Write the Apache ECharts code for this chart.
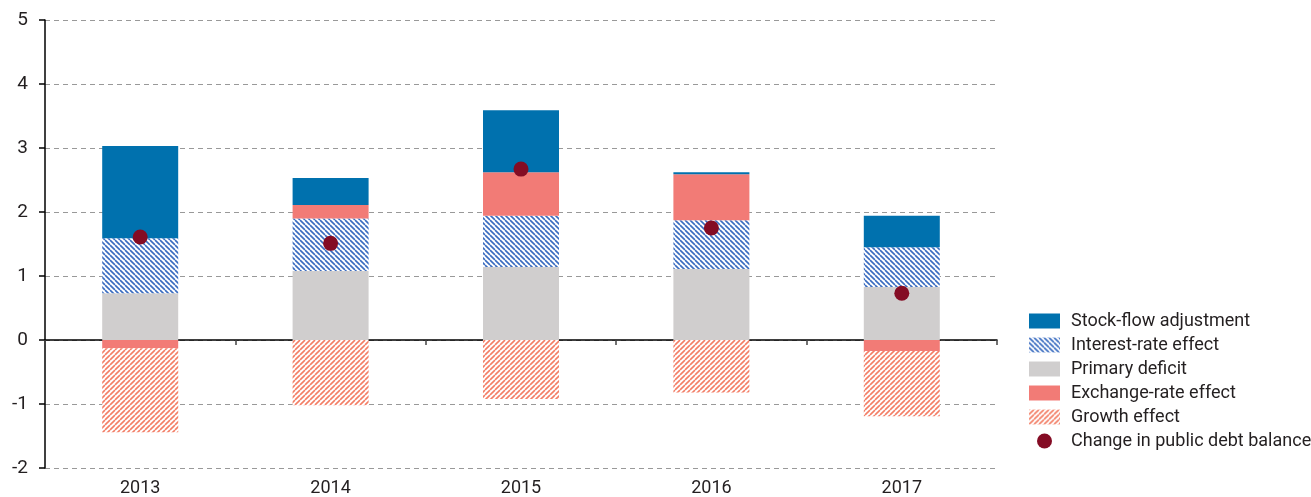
<!DOCTYPE html>
<html><head><meta charset="utf-8">
<script src="https://cdn.jsdelivr.net/npm/echarts@6/dist/echarts.min.js"></script>
<style>html,body{margin:0;padding:0;background:#fff}#c{width:1311px;height:497px}</style>
</head><body><div id="c"></div>
<script>
const years = ['2013','2014','2015','2016','2017'];
const primaryDeficit = [0.73, 1.08, 1.14, 1.11, 0.83];
const interestRate   = [0.86, 0.82, 0.80, 0.76, 0.62];
const exchangeRate   = [-0.13, 0.21, 0.68, 0.72, -0.17];
const stockFlow      = [1.44, 0.42, 0.97, 0.03, 0.49];
const growthEffect   = [-1.31, -1.02, -0.92, -0.82, -1.02];
const debtChange     = [1.61, 1.51, 2.67, 1.75, 0.73];
const yTicks = [-2, -1, 0, 1, 2, 3, 4, 5];

const FONT = "Roboto, 'Liberation Sans', sans-serif";
const TXT = '#231f20';

function hatch(color, dir) {
  const s = 5;
  const c = document.createElement('canvas');
  c.width = s; c.height = s;
  const g = c.getContext('2d');
  g.fillStyle = '#fff'; g.fillRect(0, 0, s, s);
  g.strokeStyle = color; g.lineWidth = 1.6;
  g.beginPath();
  for (const k of [-s, 0, s]) {
    if (dir === 'back') { g.moveTo(k, 0); g.lineTo(k + s, s); }
    else { g.moveTo(k, s); g.lineTo(k + s, 0); }
  }
  g.stroke();
  return { image: c, repeat: 'repeat' };
}
const interestPattern = hatch('#3a6cc0', 'back');
const growthPattern = hatch('#f37e66', 'fwd');

const chart = echarts.init(document.getElementById('c'));
chart.setOption({
  animation: false,
  backgroundColor: '#fff',
  grid: { left: 45, right: 314, top: 20, bottom: 29 },
  legend: {
    orient: 'vertical', left: 1029, top: 312, padding: 0,
    itemWidth: 31, itemHeight: 15, itemGap: 6,
    textStyle: { fontFamily: FONT, fontSize: 18, color: TXT, padding: [0, 0, 0, 6] },
    data: [
      { name: 'Stock-flow adjustment', icon: 'rect' },
      { name: 'Interest-rate effect', icon: 'rect' },
      { name: 'Primary deficit', icon: 'rect' },
      { name: 'Exchange-rate effect', icon: 'rect' },
      { name: 'Growth effect', icon: 'rect' },
      { name: 'Change in public debt balance', icon: 'circle' }
    ]
  },
  xAxis: [
    {
      type: 'category', data: years,
      axisLine: { onZero: true, lineStyle: { color: '#000', width: 1.5 } },
      axisTick: { show: true, length: 5, lineStyle: { color: '#444', width: 1.5 } },
      axisLabel: { show: false },
      splitLine: { show: false }
    },
    {
      type: 'category', data: years, position: 'bottom',
      axisLine: { show: false, onZero: false },
      axisTick: { show: false },
      axisLabel: { fontFamily: FONT, fontSize: 18, color: TXT, margin: 11 },
      splitLine: { show: false }
    }
  ],
  yAxis: {
    type: 'value', min: yTicks[0], max: yTicks[yTicks.length - 1], interval: 1,
    axisLine: { show: true, onZero: false, lineStyle: { color: '#000', width: 1.5 } },
    axisTick: { show: true, length: 6, lineStyle: { color: '#000', width: 1.5 } },
    axisLabel: { fontFamily: FONT, fontSize: 19, color: TXT, margin: 17 },
    splitLine: { show: true, lineStyle: { color: '#999', type: [5, 4], width: 1 } }
  },
  series: [
    { name: 'Primary deficit', type: 'bar', stack: 'a', barWidth: 76, data: primaryDeficit, itemStyle: { color: '#d0cece' } },
    { name: 'Interest-rate effect', type: 'bar', stack: 'a', barWidth: 76, data: interestRate, itemStyle: { color: interestPattern } },
    { name: 'Exchange-rate effect', type: 'bar', stack: 'a', barWidth: 76, data: exchangeRate, itemStyle: { color: '#f27b76' } },
    { name: 'Stock-flow adjustment', type: 'bar', stack: 'a', barWidth: 76, data: stockFlow, itemStyle: { color: '#0071ae' } },
    { name: 'Growth effect', type: 'bar', stack: 'a', barWidth: 76, data: growthEffect, itemStyle: { color: growthPattern } },
    { name: 'Change in public debt balance', type: 'scatter', symbol: 'circle', symbolSize: 15, z: 10, data: debtChange, itemStyle: { color: '#840c24', opacity: 1 } }
  ]
});
</script></body></html>
